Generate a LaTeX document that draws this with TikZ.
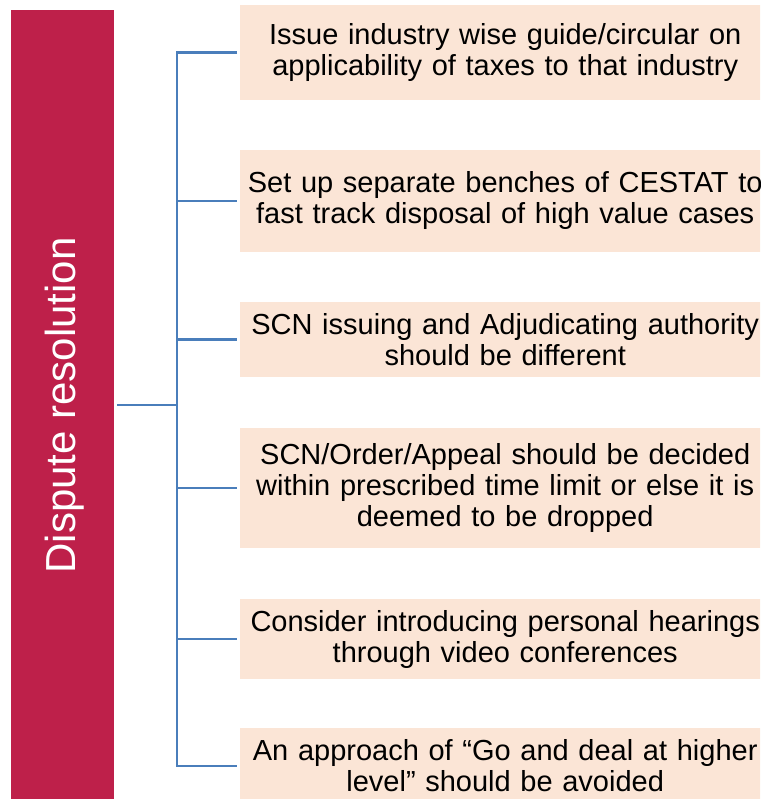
\documentclass[tikz,border=0pt]{standalone}
\usepackage{fontspec}
\setmainfont{Liberation Sans}
\definecolor{dispred}{RGB}{190,32,74}
\definecolor{itemfill}{RGB}{251,229,214}
\definecolor{linkblue}{RGB}{74,126,187}
\begin{document}
\begin{tikzpicture}[x=1pt,y=-1pt,
  item/.style={fill=itemfill, inner sep=0pt, minimum width=530pt,
    text width=530pt, align=center, anchor=west,
    font=\fontsize{29}{31}\selectfont},
  link/.style={draw=linkblue, line width=2.3pt, line join=miter},
  category/.style={fill=dispred, inner sep=0pt, anchor=north west,
    minimum width=103pt, minimum height=800pt},
  categorytext/.style={rotate=90, anchor=base, text=white,
    font=\fontsize{42}{46}\selectfont}]
\useasboundingbox (0,0) rectangle (760,799);
\clip (0,0) rectangle (760,799);

% category bar
\node[category] (cat) at (11,10) {};
\node[categorytext] (cattext) at (75,405.5) {Dispute resolution};

% item boxes
\node[item, minimum height=95pt]  (b1) at (240,52.5)
  {Issue industry wise guide/circular on\\applicability of taxes to that industry};
\node[item, minimum height=102pt] (b2) at (240,201)
  {Set up separate benches of CESTAT to\\fast track disposal of high value cases};
\node[item, minimum height=75pt]  (b3) at (240,339.5)
  {SCN issuing and Adjudicating authority\\should be different};
\node[item, minimum height=120pt] (b4) at (240,488)
  {SCN/Order/Appeal should be decided\\within prescribed time limit or else it is\\deemed to be dropped};
\node[item, minimum height=80pt]  (b5) at (240,639)
  {Consider introducing personal hearings\\through video conferences};
\node[item, minimum height=76pt]  (b6) at (240,766)
  {An approach of “Go and deal at higher\\level” should be avoided};

% connectors
\coordinate (hub) at (177,405);
\draw[link] ([xshift=3pt]cat.east |- hub) -- (hub);
\draw[link] ([xshift=-3pt]b1.west) -- (hub |- b1.west) -- (hub |- b6.west)
  -- ([xshift=-3pt]b6.west);
\foreach \b in {b2,b3,b4,b5}
  \draw[link] (hub |- \b.west) -- ([xshift=-3pt]\b.west);
\end{tikzpicture}
\end{document}
